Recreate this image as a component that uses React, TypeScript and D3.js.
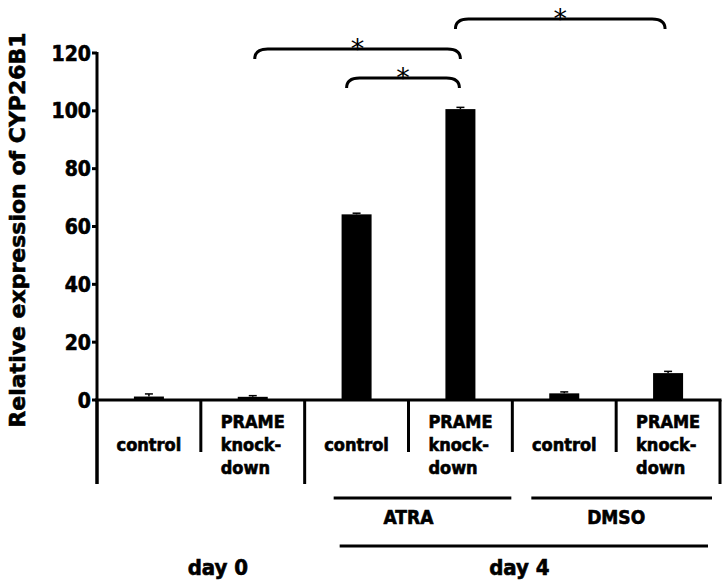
import React from "react";
import * as d3 from "d3";

const categories = ["control", "PRAME knock-down", "control", "PRAME knock-down", "control", "PRAME knock-down"];
const values = [1.2, 1.1, 64.2, 100.6, 2.3, 9.3];
const errors = [0.9, 0.4, 0.4, 0.6, 0.5, 0.6];
const yTicks = [0, 20, 40, 60, 80, 100, 120];
const treatmentLabels = ["ATRA", "DMSO"];
const treatmentRanges = [[2, 3], [4, 5]];
const dayLabels = ["day 0", "day 4"];
const dayRanges = [[0, 1], [2, 5]];
const sigPairs = [[3, 5], [1, 3], [2, 3]];
const sigMarks = ["*", "*", "*"];

const FONT = "'DejaVu Sans', Verdana, sans-serif";
const CFONT = "'DejaVu Sans Condensed', 'DejaVu Sans', sans-serif";
const heavy = { stroke: "#000", strokeWidth: 0.6 };

export default function App() {
  const W = 728, H = 588;
  const x0 = 97, x1 = 720;
  const y = d3.scaleLinear().domain([0, 120]).range([400, 53]);
  const x = d3.scaleBand<number>().domain(categories.map((_, i) => i)).range([x0, x1]).paddingInner(0).paddingOuter(0);
  const bw = x.bandwidth();
  const barW = 30;
  const cx = (i: number) => (x(i) as number) + bw / 2;

  const sigY = [19, 49, 78];
  const sigDx = [[-5, -3], [2, 0], [-10, -1]];
  const drop = 10;
  const r = 13;

  const groupLineY = 498;
  const treatLineOff = [[29, -1], [19, -8]];
  const dayLineY = 546;

  return (
    <svg width={W} height={H} style={{ position: "absolute", left: 0, top: 0, background: "#fff" }}>
      <text
        transform={`translate(25,${230}) rotate(-90)`}
        textAnchor="middle"
        fontFamily={FONT}
        fontWeight="bold"
        fontSize={22}
        {...heavy}
      >
        Relative expression of CYP26B1
      </text>

      <line x1={x0} x2={x0} y1={y(120) - 1} y2={484} stroke="#000" strokeWidth={3} />
      {yTicks.map((t) => (
        <g key={t}>
          <line x1={x0 - 5} x2={x0} y1={y(t)} y2={y(t)} stroke="#000" strokeWidth={3} />
          <text x={x0 - 6} y={y(t)} dy="0.36em" textAnchor="end" fontFamily={CFONT} fontWeight="bold" fontSize={21} {...heavy}>
            {t}
          </text>
        </g>
      ))}

      {values.map((v, i) => (
        <g key={i}>
          <rect x={cx(i) - barW / 2} y={y(v)} width={barW} height={y(0) - y(v)} fill="#000" />
          <line x1={cx(i)} x2={cx(i)} y1={y(v + errors[i])} y2={y(v)} stroke="#000" strokeWidth={1.5} />
          <line x1={cx(i) - 4} x2={cx(i) + 4} y1={y(v + errors[i])} y2={y(v + errors[i])} stroke="#000" strokeWidth={1.5} />
        </g>
      ))}

      <line x1={x0 - 2} x2={x1 + 1.5} y1={y(0)} y2={y(0)} stroke="#000" strokeWidth={3} />

      {d3.range(categories.length + 1).map((k) => {
        const xx = k === categories.length ? x1 : (x(k) as number);
        const long = k === 0 || k === 2 || k === categories.length;
        return <line key={k} x1={xx} x2={xx} y1={y(0)} y2={long ? 484 : 452} stroke="#000" strokeWidth={3} />;
      })}

      {categories.map((c, i) => {
        const lines = c === "control" ? ["control"] : ["PRAME", "knock-", "down"];
        const startY = lines.length === 1 ? 451 : 428;
        return (
          <text key={i} fontFamily={CFONT} fontWeight="bold" fontSize={18} textAnchor={lines.length === 1 ? "middle" : "start"} {...heavy}>
            {lines.map((l, j) => (
              <tspan key={j} x={lines.length === 1 ? cx(i) : cx(i) - 32} y={startY + j * 23}>
                {l}
              </tspan>
            ))}
          </text>
        );
      })}

      {treatmentLabels.map((lab, k) => {
        const [a, b] = treatmentRanges[k];
        const xa = x(a) as number, xb = (x(b) as number) + bw;
        return (
          <g key={lab}>
            <line x1={xa + treatLineOff[k][0]} x2={xb + treatLineOff[k][1]} y1={groupLineY} y2={groupLineY} stroke="#000" strokeWidth={3} />
            <text x={(xa + xb) / 2} y={524} textAnchor="middle" fontFamily={CFONT} fontWeight="bold" fontSize={19} {...heavy}>
              {lab}
            </text>
          </g>
        );
      })}

      {dayLabels.map((lab, k) => {
        const [a, b] = dayRanges[k];
        const xa = x(a) as number, xb = (x(b) as number) + bw;
        const mid = k === 0 ? (xa + xb) / 2 + 17 : (xa + xb) / 2 + 7;
        return (
          <g key={lab}>
            {k === 1 && <line x1={xa + 35} x2={xb - 12} y1={dayLineY} y2={dayLineY} stroke="#000" strokeWidth={3} />}
            <text x={mid} y={575} textAnchor="middle" fontFamily={CFONT} fontWeight="bold" fontSize={22} {...heavy}>
              {lab}
            </text>
          </g>
        );
      })}

      {sigPairs.map(([a, b], k) => {
        const xa = cx(a) + sigDx[k][0];
        const xb = cx(b) + sigDx[k][1];
        const yy = sigY[k];
        const p = `M${xa},${yy + drop} Q${xa},${yy} ${xa + r},${yy} L${xb - r},${yy} Q${xb},${yy} ${xb},${yy + drop}`;
        return (
          <g key={k}>
            <path d={p} fill="none" stroke="#000" strokeWidth={3} />
            <text x={(xa + xb) / 2} y={yy + 9} textAnchor="middle" fontFamily={FONT} fontSize={27}>
              {sigMarks[k]}
            </text>
          </g>
        );
      })}
    </svg>
  );
}
